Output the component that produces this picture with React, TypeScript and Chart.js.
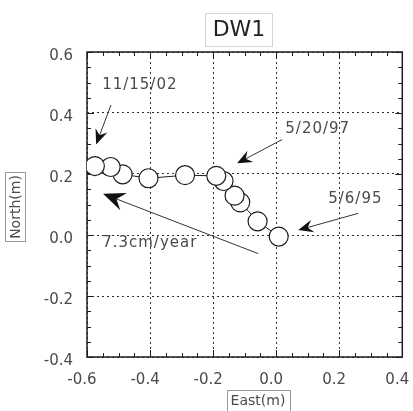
import React, { useEffect, useRef } from 'react';
import { Chart, registerables } from 'chart.js';

Chart.register(...registerables);

// ---- data (oldest 5/6/95 first, newest 11/15/02 last) ----
const eastValues = [0.008, -0.059, -0.114, -0.132, -0.167, -0.19, -0.289, -0.405, -0.487, -0.525, -0.575];
const northValues = [-0.005, 0.045, 0.107, 0.129, 0.177, 0.194, 0.196, 0.186, 0.199, 0.223, 0.226];

const xTickValues = [-0.6, -0.4, -0.2, 0.0, 0.2, 0.4];
const yTickValues = [-0.4, -0.2, 0.0, 0.2, 0.4, 0.6];
const minorStep = 0.05;

const titleText = 'DW1';
const xTitleText = 'East(m)';
const yTitleText = 'North(m)';

// annotations (data units)
const annotationTexts = ['11/15/02', '5/20/97', '5/6/95', '7.3cm/year'];
const annotationTextEast = [-0.552, 0.029, 0.165, -0.552];
const annotationTextNorth = [0.49, 0.348, 0.119, -0.026];
const arrowTailEast = [-0.524, 0.019, 0.26, -0.057];
const arrowTailNorth = [0.426, 0.313, 0.071, -0.061];
const arrowHeadEast = [-0.571, -0.124, 0.07, -0.549];
const arrowHeadNorth = [0.297, 0.235, 0.016, 0.135];
const arrowHeadSize = [15, 15, 15, 22];

const FONT = '"DejaVu Sans", Verdana, sans-serif';
const TEXT_COLOR = '#4a4a4a';
const LINE_COLOR = '#1e1e1e';

function drawFrame(chart: any) {
  const { ctx, chartArea: a, scales } = chart;
  const xs = scales.x, ys = scales.y;
  ctx.save();
  ctx.setLineDash([]);
  ctx.strokeStyle = LINE_COLOR;
  ctx.lineWidth = 1;
  const nx = Math.round((xs.max - xs.min) / minorStep);
  for (let i = 0; i <= nx; i++) {
    const v = xs.min + i * minorStep;
    const major = Math.abs(v / 0.2 - Math.round(v / 0.2)) < 1e-6;
    const len = major ? 7 : 4;
    const px = Math.round(xs.getPixelForValue(v)) + 0.5;
    ctx.beginPath();
    ctx.moveTo(px, a.bottom); ctx.lineTo(px, a.bottom - len);
    ctx.moveTo(px, a.top); ctx.lineTo(px, a.top + len);
    ctx.stroke();
  }
  const ny = Math.round((ys.max - ys.min) / minorStep);
  for (let i = 0; i <= ny; i++) {
    const v = ys.min + i * minorStep;
    const major = Math.abs(v / 0.2 - Math.round(v / 0.2)) < 1e-6;
    const len = major ? 7 : 4;
    const py = Math.round(ys.getPixelForValue(v)) + 0.5;
    ctx.beginPath();
    ctx.moveTo(a.left, py); ctx.lineTo(a.left + len, py);
    ctx.moveTo(a.right, py); ctx.lineTo(a.right - len, py);
    ctx.stroke();
  }
  ctx.lineWidth = 1.5;
  ctx.strokeRect(a.left, a.top, a.right - a.left, a.bottom - a.top);
  ctx.restore();
}

const framePlugin = {
  id: 'frameAndTicks',
  beforeDatasetsDraw(chart: any) {
    drawFrame(chart);
  },
  afterDatasetsDraw(chart: any) {
    const { ctx, scales } = chart;
    const xs = scales.x, ys = scales.y;
    ctx.save();
    ctx.setLineDash([]);
    ctx.font = '15px ' + FONT;
    ctx.fillStyle = TEXT_COLOR;
    ctx.textAlign = 'left';
    ctx.textBaseline = 'middle';
    try { (ctx as any).letterSpacing = '1px'; } catch (e) {}
    annotationTexts.forEach((t, i) => {
      ctx.fillText(t, xs.getPixelForValue(annotationTextEast[i]), ys.getPixelForValue(annotationTextNorth[i]));
    });
    try { (ctx as any).letterSpacing = '0px'; } catch (e) {}
    annotationTexts.forEach((_, i) => {
      const x0 = xs.getPixelForValue(arrowTailEast[i]);
      const y0 = ys.getPixelForValue(arrowTailNorth[i]);
      const x1 = xs.getPixelForValue(arrowHeadEast[i]);
      const y1 = ys.getPixelForValue(arrowHeadNorth[i]);
      const ang = Math.atan2(y1 - y0, x1 - x0);
      const L = arrowHeadSize[i];
      const W = L * 0.42;
      ctx.strokeStyle = '#333';
      ctx.lineWidth = 1;
      ctx.beginPath();
      ctx.moveTo(x0, y0);
      ctx.lineTo(x1 - Math.cos(ang) * L * 0.6, y1 - Math.sin(ang) * L * 0.6);
      ctx.stroke();
      const cx = Math.cos(ang), sx = Math.sin(ang);
      const pt = (along: number, perp: number) => [x1 - cx * along - sx * perp, y1 - sx * along + cx * perp];
      const p1 = pt(L, W);
      const p2 = pt(L * 0.65, 0);
      const p3 = pt(L, -W);
      ctx.fillStyle = '#111';
      ctx.beginPath();
      ctx.moveTo(x1, y1);
      ctx.lineTo(p1[0], p1[1]);
      ctx.lineTo(p2[0], p2[1]);
      ctx.lineTo(p3[0], p3[1]);
      ctx.closePath();
      ctx.fill();
    });
    ctx.restore();
  },
  afterDraw(chart: any) {
    const { ctx } = chart;
    ctx.save();
    ctx.setLineDash([]);
    ctx.fillStyle = '#222';
    ctx.textAlign = 'center';
    ctx.textBaseline = 'middle';
    ctx.font = '22px ' + FONT;
    ctx.fillText(titleText, 239, 30);
    ctx.strokeStyle = '#aaa';
    ctx.lineWidth = 1;
    ctx.setLineDash([1, 1]);
    ctx.strokeRect(205.5, 13.5, 67, 33);
    ctx.setLineDash([]);
    ctx.fillStyle = TEXT_COLOR;
    ctx.font = '14px ' + FONT;
    ctx.fillText(xTitleText, 258, 401);
    ctx.strokeStyle = '#999';
    ctx.strokeRect(227.5, 390.5, 63, 21);
    ctx.save();
    ctx.translate(16, 207);
    ctx.rotate(-Math.PI / 2);
    ctx.fillText(yTitleText, 0, 0);
    ctx.strokeRect(-34.5, -10.5, 69, 20);
    ctx.restore();
    ctx.restore();
  },
};

export default function App() {
  const canvasRef = useRef<HTMLCanvasElement | null>(null);

  useEffect(() => {
    const canvas = canvasRef.current;
    if (!canvas) return;
    const points = eastValues.map((e, i) => ({ x: e, y: northValues[i] }));
    const chart = new Chart(canvas, {
      type: 'scatter',
      data: {
        datasets: [
          {
            data: points,
            showLine: true,
            borderColor: LINE_COLOR,
            borderWidth: 1,
            pointRadius: 9.5,
            pointBackgroundColor: '#ffffff',
            pointBorderColor: LINE_COLOR,
            pointBorderWidth: 1.2,
          },
        ],
      },
      options: {
        animation: false,
        responsive: false,
        layout: { padding: { top: 52, right: 10, left: 0, bottom: 0 } },
        plugins: {
          legend: { display: false },
          title: { display: false },
          tooltip: { enabled: false },
        },
        scales: {
          x: {
            type: 'linear',
            min: -0.6,
            max: 0.4,
            afterBuildTicks: (s: any) => { s.ticks = xTickValues.map((v) => ({ value: v })); },
            afterFit: (s: any) => { s.height = 54; s.paddingLeft = 0; s.paddingRight = 0; },
            grid: { color: '#333', lineWidth: 1, drawTicks: false },
            border: { display: false, dash: [2, 3] },
            ticks: {
              padding: 14,
              labelOffset: -5,
              color: TEXT_COLOR,
              font: { family: FONT, size: 15 },
              callback: (v: any) => Number(v).toFixed(1),
            },
          },
          y: {
            type: 'linear',
            min: -0.4,
            max: 0.6,
            afterBuildTicks: (s: any) => { s.ticks = yTickValues.map((v) => ({ value: v })); },
            afterFit: (s: any) => { s.width = 87; s.paddingTop = 0; s.paddingBottom = 0; },
            grid: { color: '#333', lineWidth: 1, drawTicks: false },
            border: { display: false, dash: [2, 3] },
            ticks: {
              padding: 14,
              labelOffset: 4,
              color: TEXT_COLOR,
              font: { family: FONT, size: 15 },
              callback: (v: any) => Number(v).toFixed(1),
            },
          },
        },
      },
      plugins: [framePlugin],
    });
    return () => chart.destroy();
  }, []);

  return (
    <div style={{ position: 'absolute', left: 0, top: 0, width: 413, height: 411, background: '#fff' }}>
      <canvas ref={canvasRef} width={413} height={411} />
    </div>
  );
}
